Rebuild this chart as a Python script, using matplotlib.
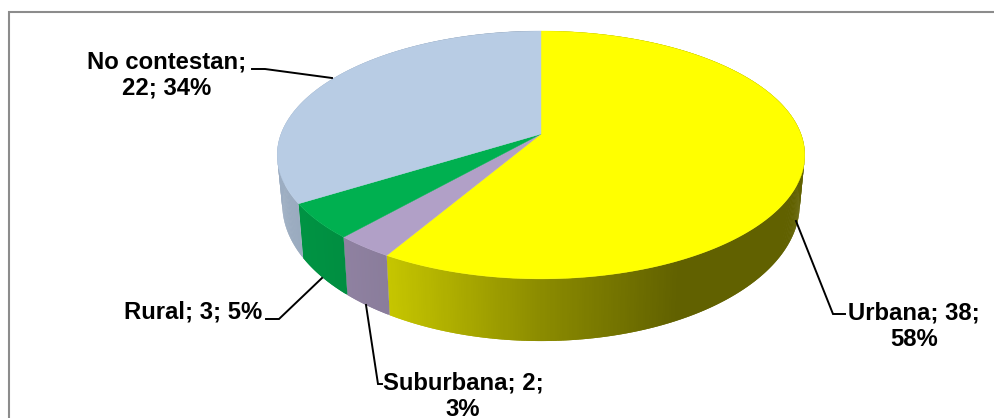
import numpy as np
import matplotlib
matplotlib.use("Agg")
import matplotlib.pyplot as plt
from matplotlib.patches import Polygon, Rectangle

# Datos del grafico
categories = ["Urbana", "Suburbana", "Rural", "No contestan"]
values = [38, 2, 3, 22]
percents = [58, 3, 5, 34]
colors = ["#FFFF00", "#B1A0C7", "#00B050", "#B8CCE4"]
label_breaks = ["Urbana; 38;\n58%", "Suburbana; 2;\n3%", "Rural; 3; 5%", "No contestan;\n22; 34%"]


def rim(theta, top=True):
    """Proyeccion en perspectiva del borde del pastel (pixeles)."""
    u, v = np.sin(theta), -np.cos(theta)
    w = 1 - 0.169 * v
    if top:
        return 541 + 260 * u / w, 134 + 120.4 * v / w
    return 541 + 255 * u / w, 181 + 133 * v / w


def shade(color, x):
    """Oscurece el lateral segun la posicion horizontal."""
    f = np.interp(x, [280, 386, 540, 680, 805], [0.85, 0.78, 0.55, 0.38, 0.38])
    return tuple(c * f for c in matplotlib.colors.to_rgb(color))


fig = plt.figure(figsize=(9.94, 4.18), dpi=100)
ax = fig.add_axes([0, 0, 1, 1])
ax.set_xlim(0, 994)
ax.set_ylim(418, 0)
ax.axis("off")

ax.add_patch(Rectangle((8.5, 11.5), 1100, 500, fc="white", ec="#8C8C8C", lw=1.5))

edges = 2 * np.pi * np.concatenate([[0], np.cumsum(values)]) / np.sum(values)

# Lateral: cada tira pisa a la siguiente para que no se vean costuras
for i, col in enumerate(colors):
    th = np.linspace(edges[i], edges[i + 1], int(values[i] * 12) + 3)
    for j in range(len(th) - 1):
        seg = th[j:j + 3]
        xt, yt = rim(seg)
        xb, yb = rim(seg, top=False)
        pts = list(zip(xt, yt)) + list(zip(xb[::-1], yb[::-1]))
        ax.add_patch(Polygon(pts, fc=shade(col, xt[0]), ec="none"))

# Cara superior
apex = (541, 134)
for i, col in enumerate(colors):
    th = np.linspace(edges[i], edges[i + 1], 200)
    x, y = rim(th)
    ax.add_patch(Polygon([apex] + list(zip(x, y)), fc=col, ec=col, lw=0.3))

# Etiquetas con lineas guia
text_pos = [(914, 326), (463, 396), (193, 312), (167, 75)]
leaders = [
    [(796, 221), (833, 314), (845, 314)],
    [(366, 305), (378, 384), (382, 384)],
    [(322, 278), (279, 319), (266, 319)],
    [(332, 78), (265, 69), (252, 69)],
]
for lab, (tx, ty), line in zip(label_breaks, text_pos, leaders):
    lx, ly = zip(*line)
    ax.plot(lx, ly, color="black", lw=1.4, solid_joinstyle="miter")
    ax.text(tx, ty, lab, ha="center", va="center", family="Liberation Sans",
            weight="bold", fontsize=17.2, linespacing=1.2, color="black")

fig.savefig("out.png", dpi=100)
